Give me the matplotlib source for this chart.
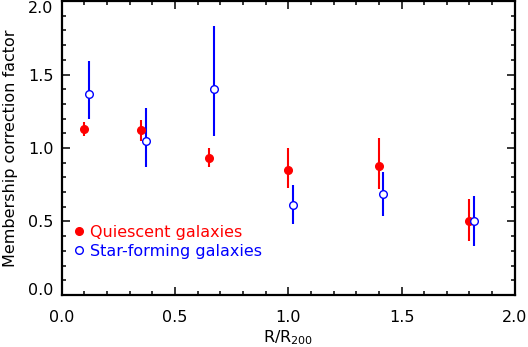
import matplotlib
matplotlib.use("Agg")
import matplotlib.pyplot as plt
from matplotlib.lines import Line2D
from matplotlib.ticker import MultipleLocator

plt.rcParams["font.family"] = ["DejaVu Sans"]
plt.rcParams["mathtext.fontset"] = "dejavusans"

# quiescent galaxies
q_r = [0.10, 0.35, 0.65, 1.00, 1.40, 1.80]
q_fac = [1.13, 1.12, 0.93, 0.85, 0.88, 0.50]
q_lo = [0.05, 0.07, 0.06, 0.12, 0.16, 0.13]
q_hi = [0.05, 0.07, 0.07, 0.15, 0.19, 0.15]

# star-forming galaxies
sf_r = [0.12, 0.37, 0.67, 1.02, 1.42, 1.82]
sf_fac = [1.37, 1.05, 1.40, 0.61, 0.69, 0.50]
sf_lo = [0.17, 0.18, 0.32, 0.13, 0.15, 0.17]
sf_hi = [0.22, 0.22, 0.43, 0.14, 0.15, 0.17]

ticks = [0.0, 0.5, 1.0, 1.5, 2.0]
tick_labels = ["0.0", "0.5", "1.0", "1.5", "2.0"]

RED = "#ff0000"
BLUE = "#0000ff"
FS = 11.5


def main():
    fig = plt.figure(figsize=(5.28, 3.47), dpi=100)
    ax = fig.add_axes([0.117, 0.150, 0.858, 0.847])

    ax.errorbar(q_r, q_fac, yerr=[q_lo, q_hi], fmt="o", color=RED,
                ms=5.5, elinewidth=1.5, capsize=0)
    ax.errorbar(sf_r, sf_fac, yerr=[sf_lo, sf_hi], fmt="o", color=BLUE,
                mfc="white", mec=BLUE, mew=1.0, ms=5.5, elinewidth=1.5,
                capsize=0)

    ax.set_xlim(0, 2.0)
    ax.set_ylim(0, 2.0)
    ax.set_xticks(ticks)
    ax.set_xticklabels(tick_labels)
    ax.set_yticks(ticks)
    ax.set_yticklabels(tick_labels)
    ax.xaxis.set_minor_locator(MultipleLocator(0.1))
    ax.yaxis.set_minor_locator(MultipleLocator(0.1))
    ax.tick_params(which="both", direction="in", top=True, right=True,
                   labelsize=FS, width=1.1)
    ax.tick_params(which="major", length=6)
    ax.tick_params(which="minor", length=3)
    ax.tick_params(axis="x", pad=11)
    ax.tick_params(axis="y", pad=6)
    # keep the end labels inside the figure, as the original does
    ylabels = ax.get_yticklabels()
    ylabels[-1].set_va("top")
    ylabels[0].set_va("baseline")
    for sp in ax.spines.values():
        sp.set_linewidth(1.6)

    ax.set_xlabel(r"R/R$_{200}$", fontsize=FS, labelpad=2)
    ax.set_ylabel("Membership correction factor", fontsize=FS, labelpad=7)

    handles = [
        Line2D([], [], ls="none", marker="o", ms=5.5, color=RED),
        Line2D([], [], ls="none", marker="o", ms=5.5, mfc="white",
               mec=BLUE, mew=1.0),
    ]
    leg = ax.legend(handles, ["Quiescent galaxies", "Star-forming galaxies"],
                    loc="upper left", bbox_to_anchor=(0.008, 0.26),
                    frameon=False, handletextpad=0.25, handlelength=0.9,
                    labelspacing=0.25, fontsize=FS, borderaxespad=0.2,
                    borderpad=0.2)
    for txt, c in zip(leg.get_texts(), [RED, BLUE]):
        txt.set_color(c)

    fig.savefig("out.png", dpi=100)


if __name__ == "__main__":
    main()
